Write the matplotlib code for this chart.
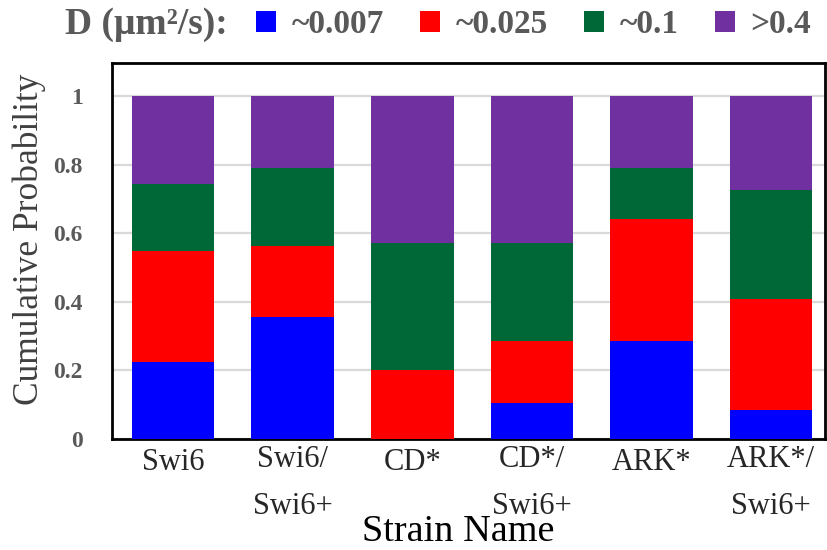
import numpy as np
import matplotlib.pyplot as plt
import matplotlib.transforms as mtransforms
from matplotlib.patches import Patch

plt.rcParams['font.family'] = ['Liberation Serif', 'DejaVu Serif']

# strain names (two-line tick labels)
strains = ['Swi6', 'Swi6/\nSwi6+', 'CD*', 'CD*/\nSwi6+', 'ARK*', 'ARK*/\nSwi6+']

# fraction of tracks in each diffusion class (stacked -> cumulative)
d_0007 = [0.225, 0.357, 0.000, 0.104, 0.286, 0.085]
d_0025 = [0.323, 0.206, 0.201, 0.182, 0.355, 0.322]
d_01 = [0.197, 0.229, 0.370, 0.285, 0.151, 0.320]
d_04 = [0.255, 0.208, 0.429, 0.429, 0.208, 0.273]

labels = ['~0.007', '~0.025', '~0.1', '>0.4']
colors = ['#0000FF', '#FF0000', '#006837', '#7030A0']

fig = plt.figure(figsize=(8.27, 5.5), dpi=100)
ax = fig.add_axes([0.1354, 0.2018, 0.8622, 0.6837])

x = np.arange(len(strains))
bottom = np.zeros(len(strains))
for vals, c in zip([d_0007, d_0025, d_01, d_04], colors):
    ax.bar(x, vals, width=0.69, bottom=bottom, color=c, zorder=3)
    bottom += np.array(vals)

ax.set_xlim(-0.51, 5.45)
ax.set_ylim(0, 1.097)
ax.set_yticks([0, 0.2, 0.4, 0.6, 0.8, 1])
ax.set_yticklabels(['0', '0.2', '0.4', '0.6', '0.8', '1'])
ax.grid(axis='y', color='#d9d9d9', linewidth=1.6, zorder=0)
ax.set_xticks(x)
ax.set_xticklabels(strains, fontsize=22, color='#262626', linespacing=1.85,
                   va='top')
ax.tick_params(axis='x', length=0, pad=4)
# single-line labels sit a little lower, as in the original
shift = mtransforms.ScaledTranslation(0, -2.5 / 72, fig.dpi_scale_trans)
for t in ax.get_xticklabels():
    if '\n' not in t.get_text():
        t.set_transform(t.get_transform() + shift)
ax.tick_params(axis='y', length=0, pad=21, labelsize=17, labelcolor='#595959')
for t in ax.get_yticklabels():
    t.set_fontweight('bold')
for s in ax.spines.values():
    s.set_linewidth(2)
    s.set_color('black')

ax.set_ylabel('Cumulative Probability', fontsize=25.5, color='#404040')
ax.yaxis.set_label_coords(-0.092, 0.53)
ax.set_xlabel('Strain Name', fontsize=27.5, color='black')
ax.xaxis.set_label_coords(0.485, -0.2)

fig.text(0.079, 0.955, 'D (\u03bcm\u00b2/s):', fontsize=27, fontweight='bold',
         color='#595959', va='center', ha='left')
handles = [Patch(facecolor=c, label=l) for c, l in zip(colors, labels)]
leg = fig.legend(handles=handles, ncol=4, loc='center left',
                 bbox_to_anchor=(0.31, 0.955), frameon=False,
                 prop={'size': 24, 'weight': 'bold'}, handlelength=0.6,
                 handleheight=0.6, handletextpad=0.45, columnspacing=1.1,
                 borderaxespad=0, borderpad=0)
for t in leg.get_texts():
    t.set_color('#595959')

fig.savefig('out.png', dpi=100)
